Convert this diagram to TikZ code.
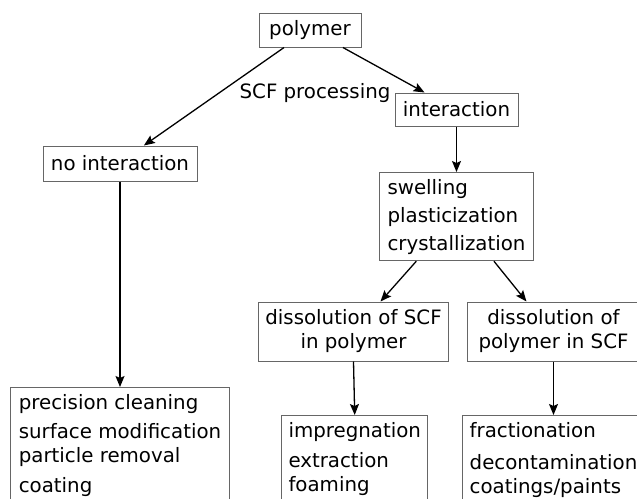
\documentclass[tikz,border=0pt]{standalone}
\usepackage{fontspec}
\setmainfont{DejaVu Sans}
\usetikzlibrary{arrows.meta}
\definecolor{boxgray}{HTML}{666666}

\begin{document}
\begin{tikzpicture}[x=0.5pt, y=-0.5pt,
    font=\fontsize{9.9}{12}\selectfont,
    box/.style={draw=boxgray, line width=0.5pt, inner xsep=3.5pt, inner ysep=3.25pt},
    list/.style={box, align=left, anchor=north west},
    arr/.style={-{Stealth[length=5.5pt,width=4.5pt,inset=1pt]}, line width=0.65pt}]

\useasboundingbox (0,0) rectangle (637,498);
\clip (0,0) rectangle (637,498);

% top of the tree
\node[box, minimum width=51pt, minimum height=17pt] (polymer) at (310,30) {polymer};
\node[anchor=base] (scf) at (315,98) {SCF processing};
\node[box, minimum width=77pt, minimum height=17.5pt] (nointer) at (120,163.5) {no interaction};
\node[box, minimum width=61.5pt, minimum height=16.5pt] (inter) at (456.5,109.5) {interaction};

% effects of the interaction
\node[list, minimum width=77pt, minimum height=44pt, font=\fontsize{9.9}{14}\selectfont] (props) at (379,172)
    {swelling\\ plasticization\\ crystallization};
\node[box, align=center, minimum width=94.5pt, minimum height=29.5pt] (dissolA) at (353.5,331.5)
    {dissolution of SCF\\ in polymer};
\node[box, align=center, minimum width=86.5pt, minimum height=29.5pt] (dissolB) at (553.5,331.5)
    {dissolution of\\ polymer in SCF};

% applications (cut by the lower edge)
\node[list, minimum width=109.5pt] (appA) at (10,387)
    {precision cleaning\\[2.5pt] surface modification\\ particle removal\\[3pt] coating};
\node[list, minimum width=73pt] (appB) at (281,415)
    {impregnation\\[3.3pt] extraction\\ foaming};
\node[list, minimum width=91pt] (appC) at (462,415)
    {fractionation\\[4pt] decontamination\\ coatings/paints};

% connectors
\draw[arr] (polymer.214) -- (nointer.37);
\draw[arr] (polymer.-28) -- (inter.152);
\draw[arr] (inter.south) -- (props.north);
\draw[arr] (props.228) -- (dissolA.48);
\draw[arr] (props.-50) -- (dissolB.132);
\draw[arr] (nointer.south) -- (appA.north);
\draw[arr] (dissolA.south) -- (appB.north);
\draw[arr] (dissolB.south) -- (appC.north);

\end{tikzpicture}
\end{document}
